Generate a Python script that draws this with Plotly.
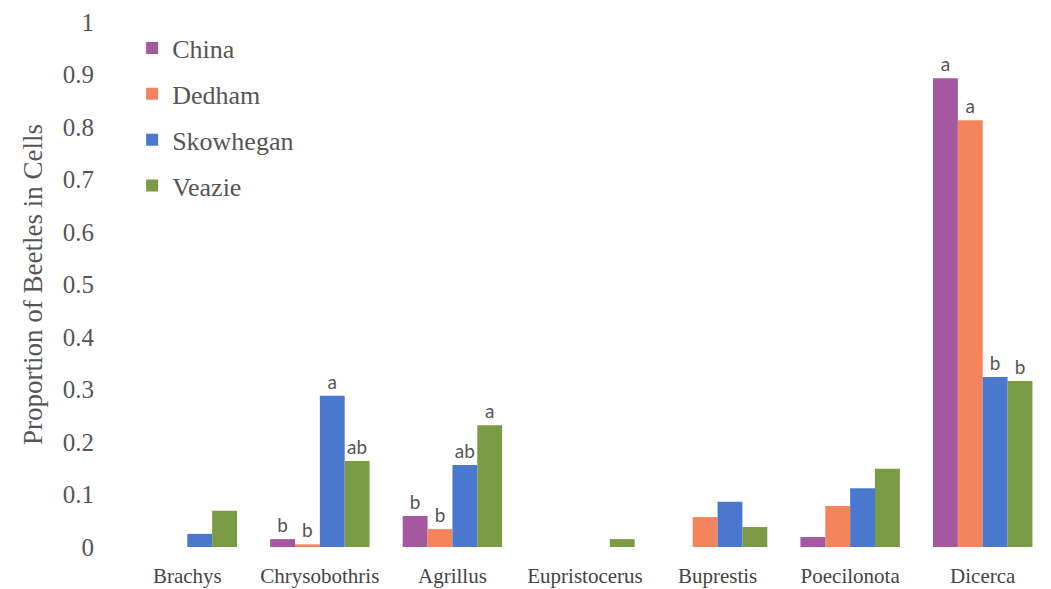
import plotly.graph_objects as go

categories = ["Brachys", "Chrysobothris", "Agrillus", "Eupristocerus", "Buprestis", "Poecilonota", "Dicerca"]
series_names = ["China", "Dedham", "Skowhegan", "Veazie"]
china = [0.0, 0.015, 0.059, 0.0, 0.0, 0.019, 0.893]
dedham = [0.0, 0.005, 0.034, 0.0, 0.057, 0.078, 0.813]
skowhegan = [0.025, 0.288, 0.156, 0.0, 0.086, 0.112, 0.324]
veazie = [0.069, 0.164, 0.232, 0.015, 0.038, 0.149, 0.316]
china_letters = ["", "b", "b", "", "", "", "a"]
dedham_letters = ["", "b", "b", "", "", "", "a"]
skowhegan_letters = ["", "a", "ab", "", "", "", "b"]
veazie_letters = ["", "ab", "a", "", "", "", "b"]
colors = ["#a5579f", "#f4845c", "#4a78cf", "#7b9a45"]
ytick_vals = [0, 0.1, 0.2, 0.3, 0.4, 0.5, 0.6, 0.7, 0.8, 0.9, 1]
ytick_text = ["0", "0.1", "0.2", "0.3", "0.4", "0.5", "0.6", "0.7", "0.8", "0.9", "1"]

SERIF = "Liberation Serif"

fig = go.Figure()
for name, vals, letters, col in zip(series_names, [china, dedham, skowhegan, veazie],
                                    [china_letters, dedham_letters, skowhegan_letters, veazie_letters], colors):
    fig.add_trace(go.Bar(
        x=categories, y=vals, name=name, marker_color=col, marker_line_width=0,
        text=letters, textposition="outside", cliponaxis=False,
        textfont=dict(family="Lato", size=19, color="#555555"),
        legendgroup=name,
    ))

fig.update_layout(
    width=1051, height=589,
    margin=dict(l=121, r=2, t=22, b=42),
    paper_bgcolor="white", plot_bgcolor="white",
    barmode="group", bargap=0.25, bargroupgap=0,
    font=dict(family=SERIF, color="#555555"),
    showlegend=True,
    legend=dict(x=0.012, y=0.995, xanchor="left", yanchor="top",
                font=dict(family=SERIF, size=26, color="#555555"), traceorder="grouped",
                tracegroupgap=9, itemwidth=30, bgcolor="rgba(0,0,0,0)"),
)
fig.update_xaxes(showline=False, showgrid=False, ticks="",
                 tickfont=dict(family=SERIF, size=21, color="#444444"),
                 ticklabelstandoff=14)
fig.update_yaxes(range=[0, 1], tickvals=ytick_vals, ticktext=ytick_text, showgrid=False,
                 zeroline=False, showline=False, ticks="",
                 tickfont=dict(family=SERIF, size=25, color="#555555"),
                 ticklabelstandoff=26,
                 title=dict(text="Proportion of Beetles in Cells",
                            font=dict(family=SERIF, size=27, color="#555555"), standoff=12))

fig.write_html("out.html")
